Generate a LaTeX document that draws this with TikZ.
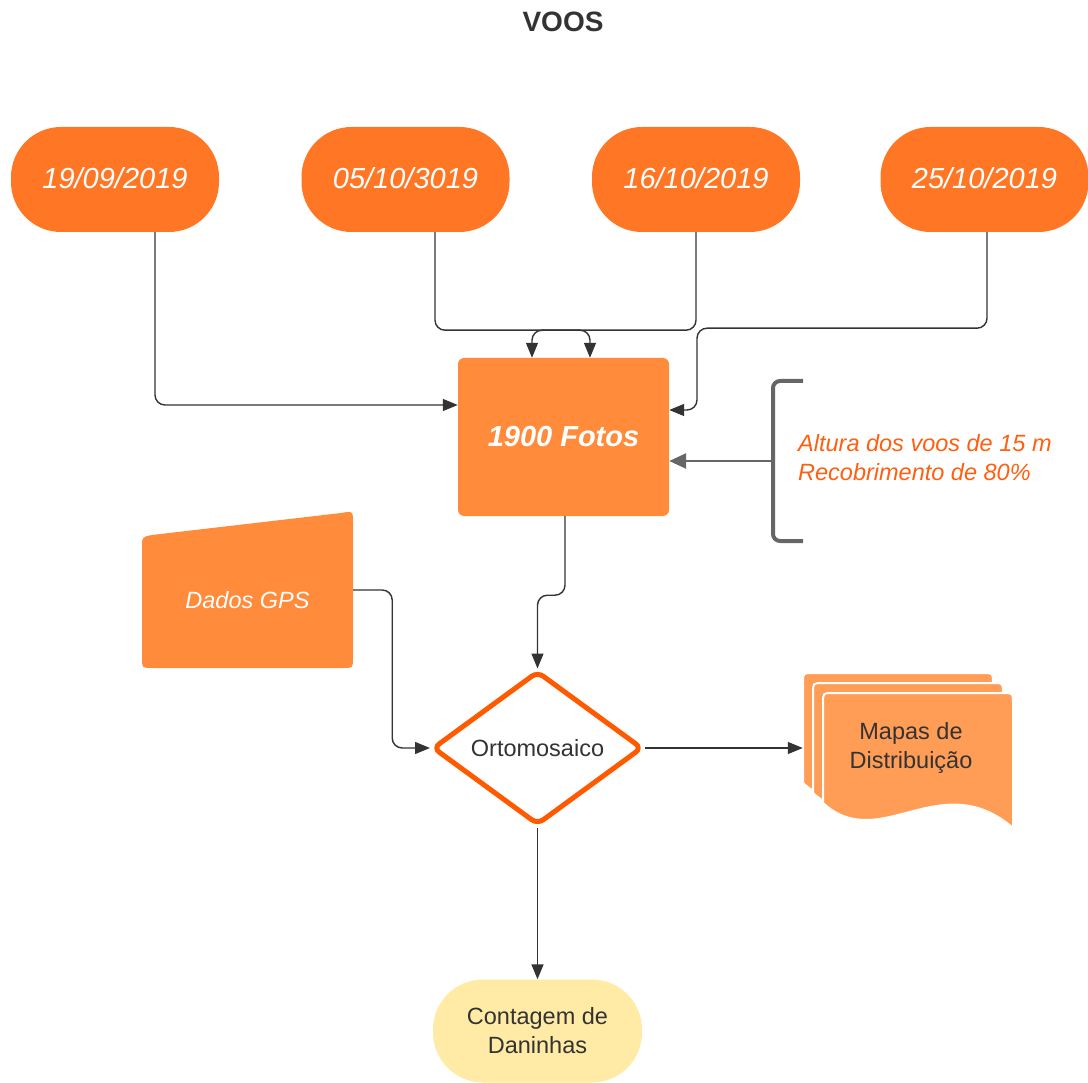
\documentclass[tikz,border=0pt]{standalone}
\usepackage{fontspec}
\setmainfont{Liberation Sans}
\usetikzlibrary{arrows.meta,shapes.geometric}
\definecolor{dateor}{HTML}{FF7624}
\definecolor{fotosor}{HTML}{FF8B3B}
\definecolor{mapor}{HTML}{FF9D57}
\definecolor{diamor}{HTML}{FF5A00}
\definecolor{noteor}{HTML}{FF5F10}
\definecolor{contfill}{HTML}{FFEBA6}
\definecolor{linegray}{HTML}{333333}
\definecolor{brgray}{HTML}{666666}
\definecolor{txtdark}{HTML}{333333}
\begin{document}
\begin{tikzpicture}[x=1pt,y=-1pt,
  pill/.style={rectangle, rounded corners=50pt, fill=dateor, minimum width=208pt, minimum height=105pt,
    text=white, font=\fontsize{29}{34}\selectfont\itshape, inner sep=0pt},
  conn/.style={draw=linegray, line width=1.4pt, rounded corners=10pt, -{Triangle[length=15pt,width=12pt]}},
  brarrow/.style={draw=brgray, line width=2.6pt, -{Triangle[length=17pt,width=15pt]}},
  bracketline/.style={draw=brgray, line width=4pt, rounded corners=7pt},
  docshape/.style={fill=mapor, draw=white, line width=2pt},
  smalltxt/.style={font=\fontsize{23.5}{29}\selectfont}
]
\useasboundingbox (0,0) rectangle (1088,1083);

% title
\node[font=\fontsize{28}{32}\selectfont\bfseries, text=txtdark] (title) at (563,22) {VOOS};

% dates
\node[pill] (d1) at (115,179.5) {\raisebox{3pt}{19/09/2019}};
\node[pill] (d2) at (405.5,179.5) {\raisebox{3pt}{05/10/3019}};
\node[pill] (d3) at (696,179.5) {\raisebox{3pt}{16/10/2019}};
\node[pill] (d4) at (984.5,179.5) {\raisebox{3pt}{25/10/2019}};

% 1900 Fotos
\node[rectangle, rounded corners=6pt, fill=fotosor, minimum width=211pt, minimum height=158pt,
  text=white, font=\fontsize{29}{34}\selectfont\bfseries\itshape, inner sep=0pt] (fotos) at (563.5,437) {1900 Fotos};

% bracket and note
\draw[bracketline] (803,381) -- (773,381) -- (773,541) -- (803,541);
\coordinate (brk) at (773,461);
\node[anchor=west, align=left, inner sep=0pt, text=noteor, font=\fontsize{23.5}{29}\selectfont\itshape] (note) at (798,458)
  {Altura dos voos de 15 m\\Recobrimento de 80\%};

% GPS manual input
\fill[fotosor] (142,547) .. controls (142,537) .. (152,535) -- (341,513) .. controls (353,511) .. (353,523)
  -- (353,658) .. controls (353,668) .. (343,668) -- (152,668) .. controls (142,668) .. (142,658) -- cycle;
\node[minimum width=211pt, minimum height=100pt, inner sep=0pt, text=white,
  font=\fontsize{23.5}{29}\selectfont\itshape] (gps) at (247.5,600) {Dados GPS};

% diamond
\node[diamond, aspect=1.36, draw=diamor, line width=5pt, fill=white, rounded corners=7pt,
  minimum width=210pt, minimum height=154pt, inner sep=0pt, text=txtdark, smalltxt] (diam) at (537.5,748) {Ortomosaico};

% document stack
\foreach \s in {20,10,0} {
  \begin{scope}[shift={(-\s,-\s)}]
    \path[docshape] (823,803) -- (823,703) .. controls (823,693) .. (833,693) -- (1003,693)
      .. controls (1013,693) .. (1013,703) -- (1013,828)
      .. controls (940,765) and (880,855) .. (823,803) -- cycle;
  \end{scope}
}
\node[minimum width=216pt, minimum height=60pt, inner sep=0pt, align=center, text=txtdark, smalltxt] (mapas) at (911,748)
  {Mapas de\\Distribuição};

% contagem
\node[rectangle, rounded corners=50pt, fill=contfill, minimum width=209pt, minimum height=103pt,
  inner sep=0pt, align=center, text=txtdark, smalltxt] (cont) at (537.5,1031) {Contagem de\\Daninhas};

% connectors
\draw[conn] ([xshift=40pt]d1.south) |- ([yshift=32pt]fotos.west);
\draw[conn] ([xshift=29.5pt]d2.south) -- ++(0,98) -| ([xshift=26.5pt]fotos.north);
\draw[conn] (d3.south) -- ++(0,98) -| ([xshift=-31.5pt]fotos.north);
\draw[conn] ([xshift=2.5pt]d4.south) -- ++(0,96) -- ++(-290,0) |- ([yshift=27pt]fotos.east);
\draw[brarrow] (brk) -- ([yshift=-24pt]fotos.east);
\draw[conn] ([xshift=1.5pt]fotos.south) -- ++(0,79) -| (diam.north);
\draw[conn] ([yshift=10pt]gps.east) -- ++(39,0) |- (diam.west);
\draw[conn] (diam.east) -- (mapas.west);
\draw[conn] (diam.south) -- (cont.north);
\end{tikzpicture}
\end{document}
